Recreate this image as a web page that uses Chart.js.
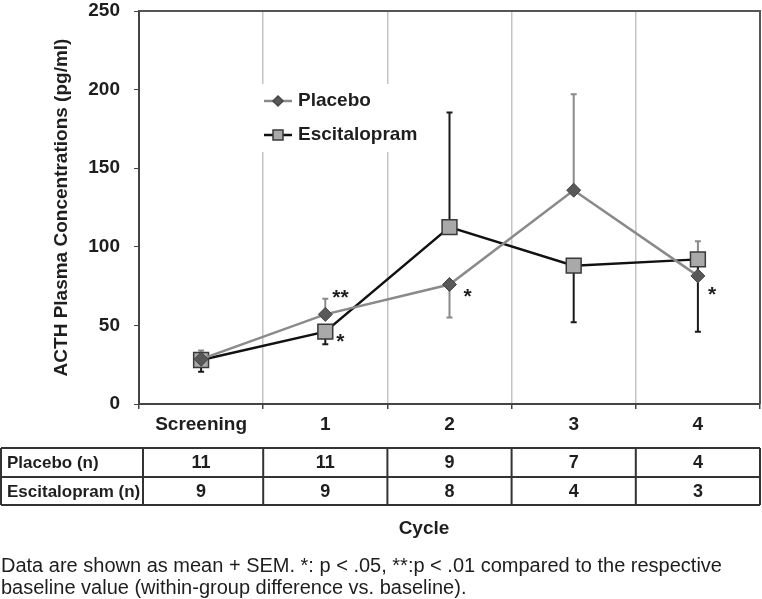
<!DOCTYPE html>
<html>
<head>
<meta charset="utf-8">
<script src="https://cdn.jsdelivr.net/npm/chart.js@4"></script>
<style>
  body { margin: 0; background: #fff; }
  canvas { display: block; }
</style>
</head>
<body>
<canvas id="chart" width="762" height="599"></canvas>
<script>
// data
const cycles = ['Screening', '1', '2', '3', '4'];
const placebo_mean = [28.5, 57, 76, 136, 81.5];
const escitalopram_mean = [28, 46, 112.5, 88, 92];
// SEM and the side the bar was drawn on (1 up, -1 down)
const placebo_sem = [5.5, 10, 21, 61, 22];
const placebo_dir = [1, 1, -1, 1, 1];
const escitalopram_sem = [7.5, 8, 73, 36, 46];
const escitalopram_dir = [-1, -1, 1, -1, -1];
// significance marks: [dataset, index, text]
const stars = [[0, 1, '**'], [1, 1, '*'], [0, 2, '*'], [0, 4, '*']];
// n per group
const table_rows = ['Placebo (n)', 'Escitalopram (n)'];
const placebo_n = [11, 11, 9, 7, 4];
const escitalopram_n = [9, 9, 8, 4, 3];
const y_ticks = [0, 50, 100, 150, 200, 250];
const note_lines = [
    'Data are shown as mean + SEM. *: p < .05, **:p < .01 compared to the respective',
    'baseline value (within-group difference vs. baseline).'
];

const FONT = '"Liberation Sans", Arial, sans-serif';
const TXT = '#1e1e1e';

const errorBars = {
    id: 'errorBars',
    beforeDatasetsDraw(chart) {
        const ctx = chart.ctx;
        const y = chart.scales.y;
        const sets = [[placebo_sem, placebo_dir, '#8a8a8a'], [escitalopram_sem, escitalopram_dir, '#1a1a1a']];
        ctx.save();
        sets.forEach((s, d) => {
            const meta = chart.getDatasetMeta(d);
            const means = chart.data.datasets[d].data;
            ctx.strokeStyle = s[2];
            ctx.lineWidth = 2;
            meta.data.forEach((pt, i) => {
                const yEnd = y.getPixelForValue(means[i] + s[1][i] * s[0][i]);
                ctx.beginPath();
                ctx.moveTo(pt.x, pt.y);
                ctx.lineTo(pt.x, yEnd);
                ctx.moveTo(pt.x - 3, yEnd);
                ctx.lineTo(pt.x + 3, yEnd);
                ctx.stroke();
            });
        });
        ctx.restore();
    }
};

const legendBox = {
    id: 'legendBox',
    // white box behind the legend, drawn over the grid but under the data
    beforeDatasetsDraw(chart) {
        const ctx = chart.ctx;
        ctx.save();
        ctx.fillStyle = '#fff';
        ctx.fillRect(256, 84, 176, 68);
        ctx.restore();
    }
};

const extras = {
    id: 'extras',
    afterDraw(chart) {
        const ctx = chart.ctx;
        const a = chart.chartArea;
        const x = chart.scales.x;
        ctx.save();

        // top and right frame
        ctx.strokeStyle = '#555';
        ctx.lineWidth = 2;
        ctx.beginPath();
        ctx.moveTo(a.left, a.top);
        ctx.lineTo(a.right, a.top);
        ctx.lineTo(a.right, a.bottom);
        ctx.stroke();

        // stars
        ctx.fillStyle = TXT;
        ctx.font = 'bold 21px ' + FONT;
        ctx.textAlign = 'left';
        ctx.textBaseline = 'middle';
        const offs = {'0,1': [7, -16], '1,1': [11, 11], '0,2': [14, 13], '0,4': [10, 19]};
        stars.forEach(s => {
            const pt = chart.getDatasetMeta(s[0]).data[s[1]];
            const o = offs[s[0] + ',' + s[1]];
            ctx.fillText(s[2], pt.x + o[0], pt.y + o[1]);
        });

        // table of n
        const half = (x.getPixelForValue(1) - x.getPixelForValue(0)) / 2;
        const rowsY = [448, 477, 505];
        ctx.strokeStyle = '#333';
        ctx.lineWidth = 2;
        ctx.beginPath();
        rowsY.forEach(yy => { ctx.moveTo(1, yy); ctx.lineTo(a.right, yy); });
        const cols = [1, 143];
        for (let i = 1; i < cycles.length; i++) cols.push(x.getPixelForValue(i) - half);
        cols.push(a.right);
        cols.forEach(xx => { ctx.moveTo(xx, rowsY[0]); ctx.lineTo(xx, rowsY[2]); });
        ctx.stroke();

        ctx.font = 'bold 17px ' + FONT;
        ctx.textBaseline = 'middle';
        ctx.textAlign = 'left';
        table_rows.forEach((r, k) => ctx.fillText(r, 7, (rowsY[k] + rowsY[k + 1]) / 2 + 1));
        ctx.textAlign = 'center';
        ctx.font = 'bold 18px ' + FONT;
        [placebo_n, escitalopram_n].forEach((row, k) => {
            row.forEach((n, i) => ctx.fillText(String(n), x.getPixelForValue(i), (rowsY[k] + rowsY[k + 1]) / 2 + 1));
        });

        // axis title under the table
        ctx.font = 'bold 19px ' + FONT;
        ctx.fillText('Cycle', 424, 529);

        // footnote
        ctx.font = '20px ' + FONT;
        ctx.textAlign = 'left';
        note_lines.forEach((l, k) => ctx.fillText(l, 1, 566 + k * 22));

        // legend
        const lg = [[0, 'Placebo', 101], [1, 'Escitalopram', 135]];
        lg.forEach(l => {
            const ds = chart.data.datasets[l[0]];
            ctx.strokeStyle = ds.borderColor;
            ctx.lineWidth = 2.5;
            ctx.beginPath();
            ctx.moveTo(264, l[2]);
            ctx.lineTo(292, l[2]);
            ctx.stroke();
            ctx.fillStyle = ds.pointBackgroundColor;
            ctx.strokeStyle = ds.pointBorderColor;
            ctx.lineWidth = 1.5;
            ctx.beginPath();
            if (l[0] === 0) {
                ctx.moveTo(278, l[2] - 5); ctx.lineTo(283, l[2]); ctx.lineTo(278, l[2] + 5); ctx.lineTo(273, l[2]);
                ctx.closePath();
            } else {
                ctx.rect(273, l[2] - 5, 10, 10);
            }
            ctx.fill();
            ctx.stroke();
            ctx.fillStyle = TXT;
            ctx.font = 'bold 19px ' + FONT;
            ctx.textAlign = 'left';
            ctx.fillText(l[1], 298, l[2]);
        });
        ctx.restore();
    }
};

const noPad = s => { s.paddingTop = 0; s.paddingBottom = 0; s.paddingLeft = 0; s.paddingRight = 0; };

new Chart(document.getElementById('chart'), {
    type: 'line',
    data: {
        labels: cycles,
        datasets: [
            {
                label: 'Placebo',
                data: placebo_mean,
                borderColor: '#8a8a8a',
                borderWidth: 2.5,
                pointStyle: 'rectRot',
                pointRadius: 7,
                pointBackgroundColor: '#585858',
                pointBorderColor: '#444',
                pointBorderWidth: 1,
                tension: 0
            },
            {
                label: 'Escitalopram',
                data: escitalopram_mean,
                borderColor: '#111',
                borderWidth: 2.5,
                pointStyle: 'rect',
                pointRadius: 10.5,
                pointBackgroundColor: '#a9a9a9',
                pointBorderColor: '#3a3a3a',
                pointBorderWidth: 1.5,
                tension: 0
            }
        ]
    },
    options: {
        responsive: false,
        animation: false,
        devicePixelRatio: 1,
        layout: { autoPadding: false, padding: { left: 0, right: 2, top: 11, bottom: 0 } },
        plugins: {
            legend: { display: false },
            tooltip: { enabled: false }
        },
        scales: {
            x: {
                offset: true,
                grid: {
                    offset: true,
                    color: '#c4c4c4',
                    lineWidth: 1.5,
                    tickColor: '#444',
                    tickLength: 5
                },
                border: { color: '#444', width: 2 },
                ticks: {
                    color: TXT,
                    padding: 4,
                    font: { family: FONT, size: 19, weight: 'bold' }
                },
                afterFit: s => { s.height = 195; noPad(s); }
            },
            y: {
                min: 0,
                max: 250,
                afterBuildTicks: s => { s.ticks = y_ticks.map(v => ({ value: v })); },
                grid: {
                    drawOnChartArea: false,
                    tickColor: '#444',
                    tickLength: 5
                },
                border: { color: '#444', width: 2 },
                ticks: {
                    color: TXT,
                    padding: 14,
                    font: { family: FONT, size: 19, weight: 'bold' }
                },
                title: {
                    display: true,
                    text: 'ACTH Plasma Concentrations (pg/ml)',
                    color: TXT,
                    padding: { top: 50, bottom: 0 },
                    font: { family: FONT, size: 19, weight: 'bold' }
                },
                afterFit: s => { s.width = 139; noPad(s); }
            }
        }
    },
    plugins: [legendBox, errorBars, extras]
});
</script>
</body>
</html>
